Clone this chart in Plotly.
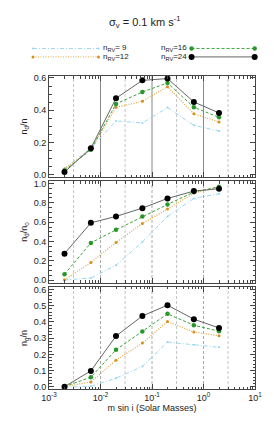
import plotly.graph_objects as go
import numpy as np

# ---------------- data ----------------
mass = [0.002, 0.0065, 0.02, 0.065, 0.2, 0.65, 2.0]

nd_n_9 = [0.040, 0.165, 0.333, 0.321, 0.416, 0.306, 0.271]
nd_n_12 = [0.035, 0.155, 0.418, 0.455, 0.546, 0.378, 0.327]
nd_n_16 = [0.027, 0.155, 0.439, 0.513, 0.569, 0.418, 0.356]
nd_n_24 = [0.017, 0.164, 0.474, 0.585, 0.596, 0.451, 0.383]

nd_no_9 = [0.003, 0.024, 0.155, 0.396, 0.659, 0.845, 0.893]
nd_no_12 = [0.005, 0.183, 0.390, 0.586, 0.735, 0.900, 0.962]
nd_no_16 = [0.062, 0.386, 0.521, 0.659, 0.783, 0.911, 0.966]
nd_no_24 = [0.275, 0.593, 0.659, 0.745, 0.845, 0.921, 0.945]

ng_n_9 = [0.000, 0.004, 0.054, 0.126, 0.276, 0.260, 0.244]
ng_n_12 = [0.002, 0.031, 0.165, 0.270, 0.402, 0.338, 0.315]
ng_n_16 = [0.003, 0.060, 0.229, 0.342, 0.450, 0.380, 0.343]
ng_n_24 = [0.002, 0.099, 0.313, 0.437, 0.503, 0.417, 0.363]

series_names = ["n<sub>RV</sub>= 9", "n<sub>RV</sub>=12", "n<sub>RV</sub>=16", "n<sub>RV</sub>=24"]
x_tick_vals = [1e-3, 1e-2, 1e-1, 1e0, 1e1]
x_tick_text = ["10<sup>-3</sup>", "10<sup>-2</sup>", "10<sup>-1</sup>", "10<sup>0</sup>", "10<sup>1</sup>"]
grid_decades = [1e-2, 1e-1, 1e0]
grid_thirds = [3e-3, 3e-2, 3e-1, 3e0]

# ---------------- styles ----------------
FONT = "Liberation Sans, Arial, sans-serif"
styles = [
    dict(color="#9ad8f2", dash="4px,2px,1px,2px", width=1, msize=2, mcolor="#8fd3f0"),
    dict(color="#e3a640", dash="1px,1.5px", width=1.2, msize=3, mcolor="#d98f1e"),
    dict(color="#3aa53a", dash="3px,2px", width=1, msize=4.5, mcolor="#2a962a"),
    dict(color="#666666", dash="solid", width=1, msize=6, mcolor="#000000"),
]

panels = [
    ([nd_n_9, nd_n_12, nd_n_16, nd_n_24], "n<sub>d</sub>/n", [-0.014, 0.612], 0.2, 0.05),
    ([nd_no_9, nd_no_12, nd_no_16, nd_no_24], "n<sub>d</sub>/n<sub>o</sub>", [-0.028, 1.025], 0.2, 0.05),
    ([ng_n_9, ng_n_12, ng_n_16, ng_n_24], "n<sub>g</sub>/n", [-0.0124, 0.615], 0.1, 0.02),
]
domains = [[0.6773, 1.0], [0.3387, 0.6645], [0.0, 0.3259]]

fig = go.Figure()

minor_x = []
for d in range(-3, 1):
    for k in range(2, 10):
        minor_x.append(k * 10.0 ** d)

layout = dict(
    width=274, height=424,
    margin=dict(l=41, r=27, t=68, b=43, autoexpand=False),
    paper_bgcolor="white", plot_bgcolor="white",
    showlegend=False,
    font=dict(family=FONT, size=9, color="#222"),
)

shapes = []
for i, (series, ytitle, yr, dt, mdt) in enumerate(panels):
    ax = i + 1
    xa = "x" if ax == 1 else f"x{ax}"
    ya = "y" if ax == 1 else f"y{ax}"
    for s, vals in enumerate(series):
        st = styles[s]
        fig.add_trace(go.Scatter(
            x=mass, y=vals, xaxis=xa, yaxis=ya, mode="lines+markers",
            line=dict(color=st["color"], dash=st["dash"], width=st["width"]),
            marker=dict(size=st["msize"], color=st["mcolor"], line=dict(width=0)),
            name=series_names[s],
        ))
    xkey = "xaxis" if ax == 1 else f"xaxis{ax}"
    ykey = "yaxis" if ax == 1 else f"yaxis{ax}"
    layout[xkey] = dict(
        type="log", range=[-3, 1], domain=[0, 1], anchor=ya, automargin=False,
        tickvals=x_tick_vals, ticktext=x_tick_text if ax == 3 else None,
        showticklabels=(ax == 3),
        ticks="inside", ticklen=5, tickcolor="#444",
        minor=dict(tickvals=minor_x, ticks="inside", ticklen=2.5, tickcolor="#444"),
        showline=True, linecolor="#444", linewidth=1, mirror="ticks",
        showgrid=False, zeroline=False,
        tickfont=dict(size=9),
    )
    if ax != 1:
        layout[xkey]["matches"] = "x"
    if ax == 3:
        layout[xkey]["title"] = dict(text="m sin i (Solar Masses)", font=dict(size=9), standoff=1)
    layout[ykey] = dict(
        range=yr, domain=domains[i], anchor=xa, automargin=False,
        dtick=dt, tick0=0, tickformat=".1f",
        ticks="inside", ticklen=5, tickcolor="#444",
        minor=dict(dtick=mdt, ticks="inside", ticklen=2.5, tickcolor="#444"),
        showline=True, linecolor="#444", linewidth=1, mirror="ticks",
        showgrid=False, zeroline=False,
        title=dict(text=ytitle, font=dict(size=9), standoff=4),
        tickfont=dict(size=9),
    )
    ydom = ya + " domain"
    for g in grid_decades:
        shapes.append(dict(type="line", xref=xa, yref=ydom, x0=g, x1=g, y0=0, y1=1,
                           line=dict(color="#888888" if ax == 1 else "#aaaaaa", width=1,
                                     dash="solid" if ax == 1 else "3px,2px"), layer="below"))
    for g in grid_thirds:
        shapes.append(dict(type="line", xref=xa, yref=ydom, x0=g, x1=g, y0=0, y1=1,
                           line=dict(color="#c4c4c4", width=1, dash="3px,2px"), layer="below"))

# ---------------- legend (drawn manually) ----------------
leg_rows = [1.088, 1.061]
leg_left = [-0.0777, 0.240]
leg_right = [0.692, 0.9985]
annotations = []
legend_pos = [(0, 0), (0, 1), (1, 0), (1, 1)]
for s, (col, row) in enumerate(legend_pos):
    st = styles[s]
    x0, x1 = (leg_left if col == 0 else leg_right)
    yv = leg_rows[row]
    shapes.append(dict(type="line", xref="paper", yref="paper", x0=x0, x1=x1, y0=yv, y1=yv,
                       line=dict(color=st["color"], dash=st["dash"], width=1)))
    r = st["msize"] / 2
    for xm in (x0, x1):
        shapes.append(dict(type="circle", xref="paper", yref="paper",
                           xsizemode="pixel", ysizemode="pixel", xanchor=xm, yanchor=yv,
                           x0=-r, x1=r, y0=-r, y1=r,
                           fillcolor=st["mcolor"], line=dict(width=0)))
    if col == 0:
        annotations.append(dict(xref="paper", yref="paper", x=x1 + 0.012, y=yv, text=series_names[s],
                                showarrow=False, xanchor="left", yanchor="middle",
                                font=dict(size=8)))
    else:
        annotations.append(dict(xref="paper", yref="paper", x=x0 - 0.012, y=yv, text=series_names[s],
                                showarrow=False, xanchor="right", yanchor="middle",
                                font=dict(size=8)))

annotations.append(dict(xref="paper", yref="paper", x=0.466, y=1.1725,
                        text="σ<sub>v</sub> = 0.1 km s<sup>-1</sup>", showarrow=False,
                        xanchor="center", yanchor="middle", font=dict(size=11)))

layout["shapes"] = shapes
layout["annotations"] = annotations
fig.update_layout(**layout)
fig.write_html("out.html")
